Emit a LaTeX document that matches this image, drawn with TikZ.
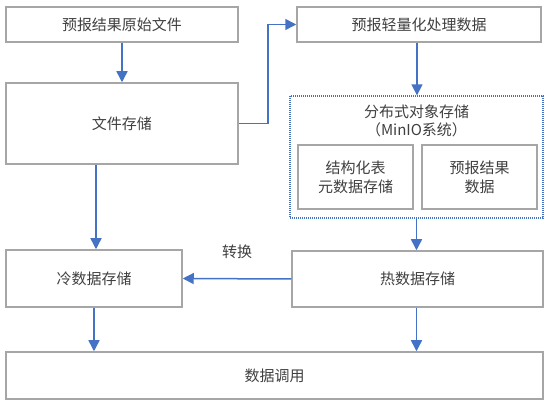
\documentclass[tikz,border=0pt]{standalone}
\usepackage{fontspec}
\setmainfont{Noto Sans CJK SC}
\usetikzlibrary{arrows.meta}
\definecolor{boxgray}{HTML}{A6A6A6}
\definecolor{txtgray}{HTML}{404040}
\definecolor{arrblue}{HTML}{4472C4}
\begin{document}
\begin{tikzpicture}[x=1pt,y=-1pt,
  box/.style={draw=boxgray, line width=1.5pt, fill=white, inner sep=0pt, text=txtgray, align=center, font=\fontsize{15}{19}\selectfont},
  conn/.style={draw=arrblue, line width=1.5pt, -{Triangle[width=11pt,length=11pt]}},
  group/.style={draw=arrblue, line width=1.3pt, dash pattern=on 1pt off 1pt, inner sep=0pt},
  lbl/.style={text=txtgray, align=center, inner sep=0pt, font=\fontsize{15}{18}\selectfont}]
\useasboundingbox[fill=white] (0,0) rectangle (550,406);
\node[box, minimum width=232pt, minimum height=35pt] (raw) at (122,24.5) {预报结果原始文件};
\node[box, minimum width=232pt, minimum height=81pt] (filestore) at (122,123.5) {文件存储};
\node[box, minimum width=244pt, minimum height=35pt] (light) at (419,24.5) {预报轻量化处理数据};
\node[group, minimum width=253pt, minimum height=122pt] (dist) at (416.5,157) {};
\node[lbl] (disttitle) at (416.5,121) {分布式对象存储\\（MinIO系统）};
\node[box, minimum width=115pt, minimum height=64pt] (meta) at (355.5,177) {结构化表\\元数据存储};
\node[box, minimum width=115pt, minimum height=64pt] (resdata) at (479.5,177) {预报结果\\数据};
\node[box, minimum width=176pt, minimum height=57pt] (cold) at (94,278.5) {冷数据存储};
\node[box, minimum width=251pt, minimum height=56pt] (hot) at (417.5,279) {热数据存储};
\node[box, minimum width=537pt, minimum height=47pt] (use) at (274.5,375.5) {数据调用};
\coordinate (bend) at (268,123.5);
\draw[conn] (raw.south) -- (filestore.north);
\draw[conn] (filestore.east) -- (bend) |- (light.west);
\draw[conn] ([xshift=-2pt]light.south) -- ([xshift=-2pt]light.south |- dist.north);
\draw[conn] ([xshift=-1pt]hot.north |- dist.south) -- ([xshift=-1pt]hot.north);
\draw[conn] ([xshift=-1pt]hot.south) -- ([xshift=-1pt]hot.south |- use.north);
\draw[conn] ([xshift=2pt]cold.north |- filestore.south) -- ([xshift=2pt]cold.north);
\draw[conn] (cold.south) -- (cold.south |- use.north);
\draw[conn] (hot.west) -- node[lbl, midway, above=19pt] (conv) {转换} (cold.east);
\end{tikzpicture}
\end{document}
